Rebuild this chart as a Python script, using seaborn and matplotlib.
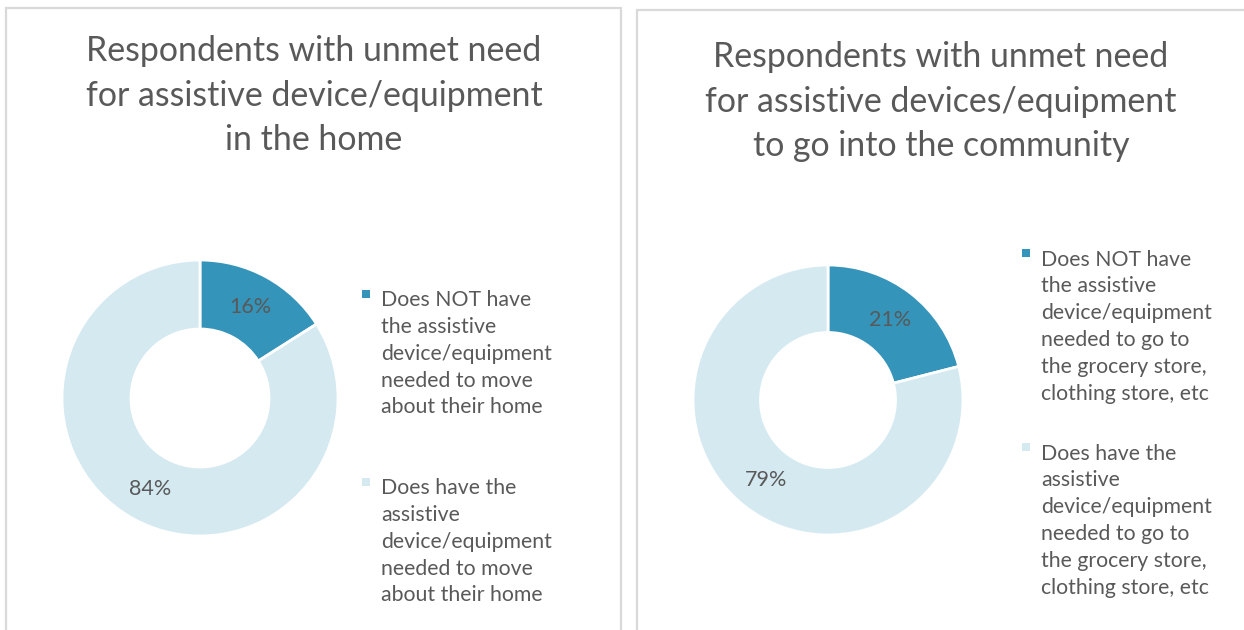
import matplotlib
matplotlib.use("Agg")
import matplotlib.pyplot as plt
from matplotlib.patches import Rectangle
import seaborn as sns

# Survey shares (percent)
home_labels = [
    "Does NOT have\nthe assistive\ndevice/equipment\nneeded to move\nabout their home",
    "Does have the\nassistive\ndevice/equipment\nneeded to move\nabout their home",
]
home_values = [16, 84]

community_labels = [
    "Does NOT have\nthe assistive\ndevice/equipment\nneeded to go to\nthe grocery store,\nclothing store, etc",
    "Does have the\nassistive\ndevice/equipment\nneeded to go to\nthe grocery store,\nclothing store, etc",
]
community_values = [21, 79]

titles = [
    "Respondents with unmet need\nfor assistive device/equipment\nin the home",
    "Respondents with unmet need\nfor assistive devices/equipment\nto go into the community",
]

sns.set_theme(style="white")
plt.rcParams["font.family"] = ["Lato", "DejaVu Sans"]

palette = ["#3494BA", "#D5E9F1"]
text_color = "#595959"
border_color = "#D9D9D9"

W, H = 1244, 630
fig = plt.figure(figsize=(W / 100, H / 100), dpi=100)
fig.patch.set_facecolor("white")


def fx(px):
    return px / W


def fy(py):
    return 1 - py / H


# Panel frames
for x0, x1, y0 in [(6, 621, 8), (637, 1252, 10)]:
    fig.add_artist(Rectangle((fx(x0), fy(640)), fx(x1 - x0), (640 - y0) / H,
                             transform=fig.transFigure, fill=False,
                             edgecolor=border_color, linewidth=1.6))

LEG_STEP = 27.6  # pixel distance between legend text lines

panels = [
    dict(values=home_values, labels=home_labels, title=titles[0],
         cx=200, cy=398, r=138, title_x=314, title_last=150,
         leg_x=362, leg_first=[303, 491]),
    dict(values=community_values, labels=community_labels, title=titles[1],
         cx=828, cy=400, r=135, title_x=941, title_last=156,
         leg_x=1022, leg_first=[262, 456]),
]

for p in panels:
    cx, cy, r = p["cx"], p["cy"], p["r"]
    ax = fig.add_axes([fx(cx - r), fy(cy + r), fx(2 * r), 2 * r / H])
    wedges, _, autotexts = ax.pie(
        p["values"], colors=palette, startangle=90, counterclock=False,
        radius=1.0, autopct="%d%%", pctdistance=0.75,
        wedgeprops=dict(width=0.5, edgecolor="white", linewidth=2),
        textprops=dict(color=text_color, fontsize=15.5),
    )
    ax.set_xlim(-1, 1)
    ax.set_ylim(-1, 1)
    ax.set_aspect("equal")
    ax.axis("off")

    fig.text(fx(p["title_x"]), fy(p["title_last"]), p["title"], ha="center",
             va="baseline", fontsize=24.4, color=text_color, linespacing=1.48)

    for color, label, first in zip(palette, p["labels"], p["leg_first"]):
        n = label.count("\n")
        fig.add_artist(Rectangle((fx(p["leg_x"]), fy(first - 5)), fx(8), 8 / H,
                                 transform=fig.transFigure, facecolor=color,
                                 edgecolor="none"))
        fig.text(fx(p["leg_x"] + 19), fy(first + n * LEG_STEP), label,
                 ha="left", va="baseline", fontsize=15.3, color=text_color,
                 linespacing=1.43)

fig.savefig("out.png", dpi=100, facecolor="white")
